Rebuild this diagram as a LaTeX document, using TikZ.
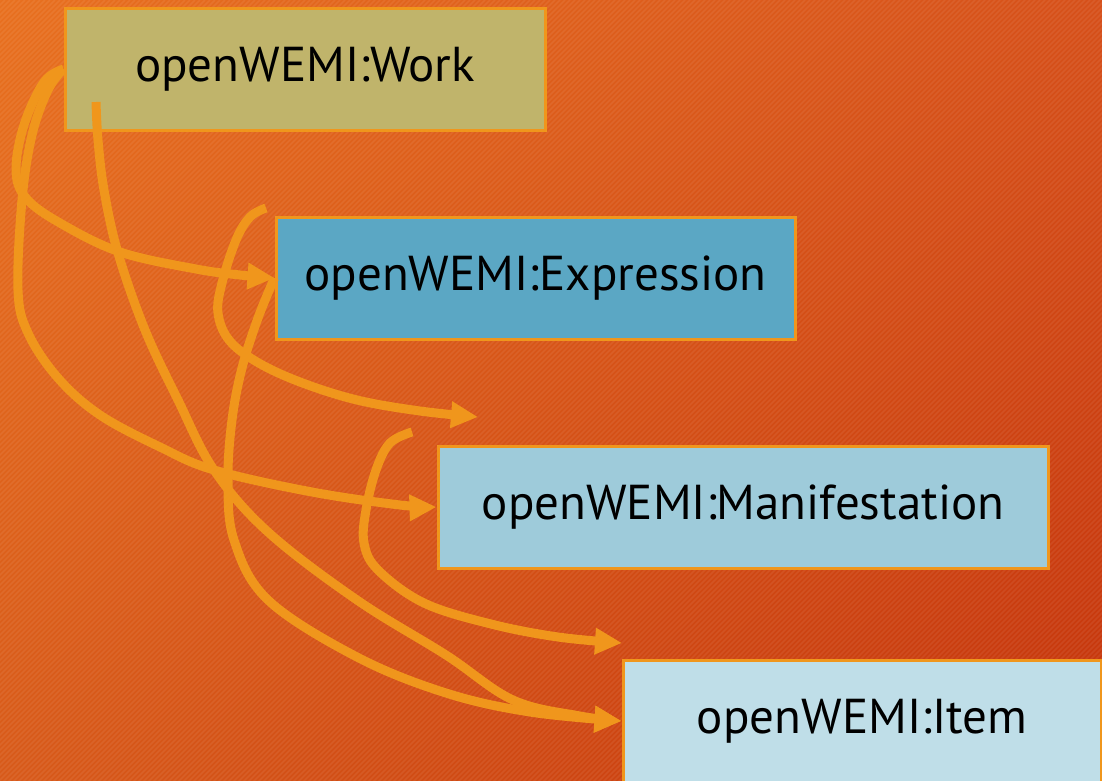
\documentclass[tikz,border=0pt]{standalone}
\usepackage{fontspec}
\setmainfont{PT Sans}
\usetikzlibrary{arrows.meta,shadings}
\definecolor{bgA}{HTML}{E8701F}
\definecolor{bgB}{HTML}{D6501A}
\definecolor{bgC}{HTML}{D85A1A}
\definecolor{bgD}{HTML}{C5340B}
\definecolor{wirecol}{HTML}{F0961C}
\definecolor{workfill}{HTML}{C0B46B}
\definecolor{exprfill}{HTML}{5BA7C4}
\definecolor{manifill}{HTML}{9ECBDA}
\definecolor{itemfill}{HTML}{BFDEE8}
\begin{document}
\begin{tikzpicture}[x=1pt,y=-1pt,
  box/.style={draw=wirecol, line width=3pt, minimum height=122pt, inner sep=0pt,
    font=\fontsize{49}{56}\selectfont, text=black},
  link/.style={draw=wirecol, line width=9pt, line join=round,
    -{Triangle[length=27pt,width=25pt]}},
  stripe/.style={draw=white, draw opacity=0.07, line width=1.5pt}]
\useasboundingbox (0,0) rectangle (1102,780);
\shade[upper left=bgA, upper right=bgB, lower left=bgC, lower right=bgD]
  (0,0) rectangle (1102,780);
\begin{scope}
\clip (0,0) rectangle (1102,780);
\foreach \i in {0,5,...,1900} \draw[stripe] (\i,0) -- ({\i-800},800);
\end{scope}

\node[box, fill=workfill, minimum width=480pt] (work) at (305,69) {openWEMI:Work};
\node[box, fill=exprfill, minimum width=519pt] (expr) at (535.5,278) {openWEMI:Expression};
\node[box, fill=manifill, minimum width=610pt] (mani) at (743,507) {openWEMI:Manifestation};
\node[box, fill=itemfill, minimum width=478pt] (item) at (862,721) {openWEMI:Item};

\coordinate (cstart) at (96,102);
\coordinate (dstart) at (266,208);
\coordinate (dend) at (478,417);
\coordinate (fstart) at (412,432);
\coordinate (fend) at (622,643);

% Work -> Expression
\draw[link] plot[smooth, tension=0.6] coordinates {(work.west) (44,82) (24,125) (16,170) (26,198) (60,223) (120,252) (196,269) (240,275) (expr.west)};
% Work -> Manifestation
\draw[link] plot[smooth, tension=0.6] coordinates {(work.west) (48,90) (32,135) (22,200) (18,290) (28,333) (58,378) (100,415) (160,447) (214,470) (312,492) (400,505) (mani.west)};
% Work -> Item
\draw[link] plot[smooth, tension=0.6] coordinates {(cstart) (98,140) (104,190) (118,253) (145,330) (178,400) (214,470) (268,532) (357,600) (446,655) (513,700) (580,716) (item.west)};
% Expression -> Item
\draw[link] plot[smooth, tension=0.6] coordinates {(expr.west) (258,318) (242,368) (232,420) (228,480) (234,540) (268,600) (357,657) (446,693) (530,712) (item.west)};
% Expression -> (free)
\draw[link] plot[smooth, tension=0.6] coordinates {(dstart) (250,217) (236,240) (222,283) (218,313) (229,340) (257,362) (300,382) (357,400) (420,411) (dend)};
% Manifestation -> (free)
\draw[link] plot[smooth, tension=0.6] coordinates {(fstart) (390,443) (376,470) (366,510) (364,543) (378,570) (424,603) (491,624) (558,637) (fend)};
\end{tikzpicture}
\end{document}
